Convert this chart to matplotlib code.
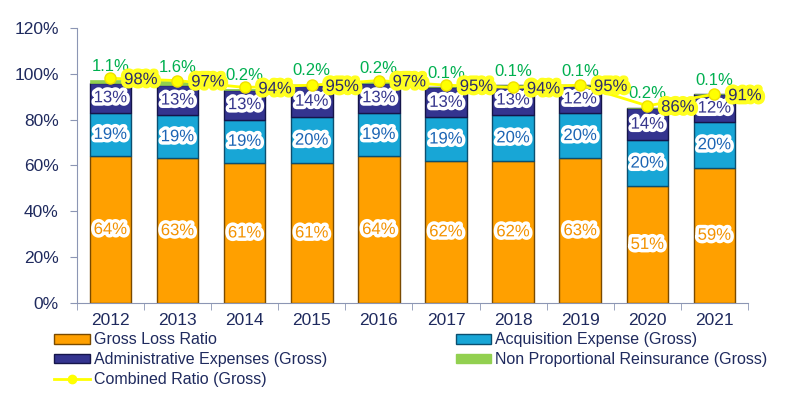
import numpy as np
import matplotlib.pyplot as plt
import matplotlib.patheffects as pe
from matplotlib.patches import Patch
from matplotlib.lines import Line2D

plt.rcParams['font.family'] = ['Liberation Sans', 'DejaVu Sans']

years = ['2012', '2013', '2014', '2015', '2016', '2017', '2018', '2019', '2020', '2021']
loss = [64, 63, 61, 61, 64, 62, 62, 63, 51, 59]
acq = [19, 19, 19, 20, 19, 19, 20, 20, 20, 20]
admin = [13, 13, 13, 14, 13, 13, 13, 12, 14, 12]
npr = [1.1, 1.6, 0.2, 0.2, 0.2, 0.1, 0.1, 0.1, 0.2, 0.1]
combined = [98, 97, 94, 95, 97, 95, 94, 95, 86, 91]

navy = '#1F2A5E'
c_loss, e_loss = '#FFA000', '#7A4A00'
c_acq, e_acq = '#18A6D6', '#0B4F70'
c_adm, e_adm = '#34348F', '#15154A'
c_npr = '#92D050'

x = np.arange(len(years))
loss = np.array(loss, float)
acq = np.array(acq, float)
admin = np.array(admin, float)
npr = np.array(npr, float)

fig = plt.figure(figsize=(8, 3.98), dpi=100)
ax = fig.add_axes([0.096, 0.239, 0.839, 0.691])

w = 0.62
ax.bar(x, loss, w, color=c_loss, edgecolor=e_loss, linewidth=1.0, zorder=2)
ax.bar(x, acq, w, bottom=loss, color=c_acq, edgecolor=e_acq, linewidth=1.0, zorder=2)
ax.bar(x, admin, w, bottom=loss + acq, color=c_adm, edgecolor=e_adm, linewidth=1.0, zorder=2)
ax.bar(x, npr, w, bottom=loss + acq + admin, color=c_npr, edgecolor=c_npr, linewidth=0.5, zorder=2)

glow_w = [pe.withStroke(linewidth=5, foreground='white')]
for i in range(len(years)):
    ax.text(x[i], loss[i] / 2, f'{loss[i]:.0f}%', ha='center', va='center',
            fontsize=12, color='#F39200', path_effects=glow_w, zorder=4)
    ax.text(x[i], loss[i] + acq[i] / 2, f'{acq[i]:.0f}%', ha='center', va='center',
            fontsize=12, color='#1B64B4', path_effects=glow_w, zorder=4)
    ax.text(x[i], loss[i] + acq[i] + admin[i] / 2, f'{admin[i]:.0f}%', ha='center', va='center',
            fontsize=12, color='#35358C', path_effects=glow_w, zorder=4)
    top = loss[i] + acq[i] + admin[i] + npr[i]
    ax.text(x[i], top + 6, f'{npr[i]:.1f}%', ha='center', va='center',
            fontsize=12, color='#00B050', zorder=4)

ax.plot(x, combined, color='#FFFF00', lw=2, marker='o', ms=8,
        markerfacecolor='#FFFF00', markeredgecolor='#F0E000', zorder=5)
glow_y = [pe.withStroke(linewidth=6, foreground='#FFFF20')]
for i in range(len(years)):
    ax.annotate(f'{combined[i]}%', (x[i], combined[i]), xytext=(22, -1),
                textcoords='offset points', ha='center', va='center', fontsize=12,
                color='#2B2B6B', path_effects=glow_y, zorder=6)

ax.set_xlim(-0.5, len(years) - 0.5)
ax.set_ylim(0, 120)
ax.set_yticks(np.arange(0, 121, 20))
ax.set_yticklabels([f'{v}%' for v in range(0, 121, 20)], fontsize=12.5, color=navy)
ax.set_xticks(x)
ax.set_xticklabels(years, fontsize=12.5, color=navy)
ax.set_xticks(np.arange(-0.5, len(years)), minor=True)
ax.tick_params(axis='x', which='major', length=0, pad=7)
ax.tick_params(axis='x', which='minor', length=5, color='#8C96B4')
ax.tick_params(axis='y', length=5, color='#8C96B4', pad=8)
for s in ['top', 'right']:
    ax.spines[s].set_visible(False)
ax.spines['left'].set_color('#8C96B4')
ax.spines['bottom'].set_color('#8C96B4')

h_loss = Patch(facecolor=c_loss, edgecolor=e_loss, label='Gross Loss Ratio')
h_acq = Patch(facecolor=c_acq, edgecolor=e_acq, label='Acquisition Expense (Gross)')
h_adm = Patch(facecolor=c_adm, edgecolor=e_adm, label='Administrative Expenses (Gross)')
h_npr = Patch(facecolor=c_npr, edgecolor=c_npr, label='Non Proportional Reinsurance (Gross)')
h_comb = Line2D([], [], color='#FFFF00', lw=2, marker='o', ms=6, label='Combined Ratio (Gross)')

leg_kw = dict(frameon=False, fontsize=11.5, labelcolor=navy, handlelength=2.2,
              handleheight=0.55, handletextpad=0.25, labelspacing=0.3, borderpad=0)
fig.legend(handles=[h_loss, h_adm, h_comb], loc='upper left',
           bbox_to_anchor=(0.058, 0.185), **leg_kw)
fig.legend(handles=[h_acq, h_npr], loc='upper left',
           bbox_to_anchor=(0.56, 0.185), **leg_kw)

fig.savefig('out.png', dpi=100)
